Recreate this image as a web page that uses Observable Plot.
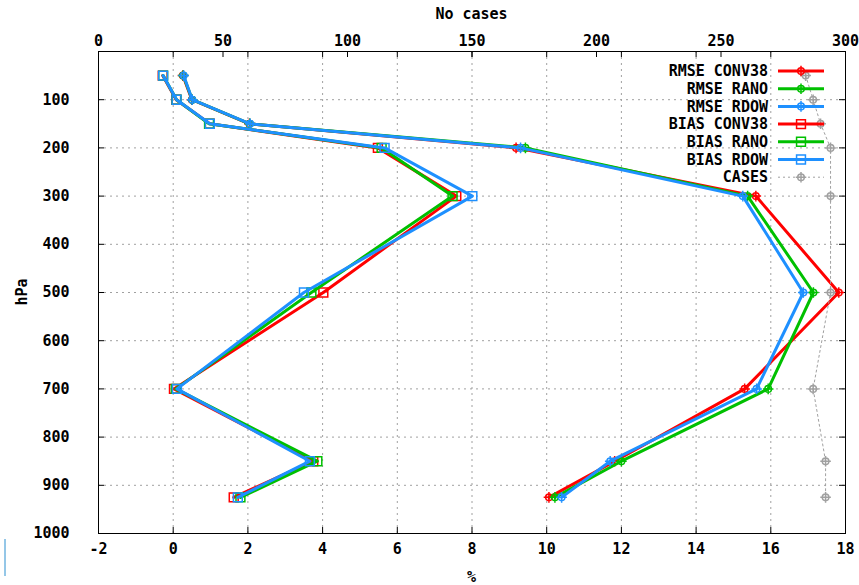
<!DOCTYPE html>
<html>
<head>
<meta charset="utf-8">
<script src="https://cdn.jsdelivr.net/npm/d3@7"></script>
<script src="https://cdn.jsdelivr.net/npm/@observablehq/plot@0.6"></script>
<style>
  html, body { margin: 0; padding: 0; background: #ffffff; }
  #chart { position: relative; width: 859px; height: 585px; }
</style>
</head>
<body>
<div id="chart"></div>
<script>
// Pressure levels (hPa)
const levels = [50, 100, 150, 200, 300, 500, 700, 850, 925];

// RMSE (%) per experiment
const rmseConv38 = [0.26, 0.50, 2.04, 9.18, 15.60, 17.82, 15.30, 11.82, 10.06];
const rmseRano   = [0.27, 0.51, 2.05, 9.43, 15.38, 17.14, 15.93, 12.00, 10.22];
const rmseRdow   = [0.28, 0.51, 2.06, 9.30, 15.25, 16.87, 15.62, 11.70, 10.40];

// BIAS (%) per experiment
const biasConv38 = [-0.28, 0.08, 0.98, 5.48, 7.58, 4.02, 0.02, 3.75, 1.62];
const biasRano   = [-0.27, 0.09, 0.96, 5.58, 7.48, 3.70, 0.07, 3.86, 1.80];
const biasRdow   = [-0.27, 0.09, 0.98, 5.66, 8.01, 3.50, 0.10, 3.66, 1.73];

// Number of cases per level (top axis)
const cases = [284, 287, 290, 294, 294, 294, 287, 292, 292];

// Axis ticks
const xTicks = [-2, 0, 2, 4, 6, 8, 10, 12, 14, 16, 18];
const caseTicks = [0, 50, 100, 150, 200, 250, 300];
const yTicks = [100, 200, 300, 400, 500, 600, 700, 800, 900, 1000];

const seriesNames = ["RMSE CONV38", "RMSE RANO", "RMSE RDOW", "BIAS CONV38", "BIAS RANO", "BIAS RDOW", "CASES"];

const RED = "#ff0000", GREEN = "#00c000", BLUE = "#1e90ff", GREY = "#a0a0a0";

// The cases axis (0..300) shares the frame with the % axis (-2..18)
const xDomain = [-2, 18];
const caseDomain = [0, 300];
const caseToX = c => xDomain[0] + (c - caseDomain[0]) * (xDomain[1] - xDomain[0]) / (caseDomain[1] - caseDomain[0]);
const xToCase = x => caseDomain[0] + (x - xDomain[0]) * (caseDomain[1] - caseDomain[0]) / (xDomain[1] - xDomain[0]);

const rows = vals => levels.map((p, i) => ({p, v: vals[i]}));

// Circle with a cross through it
const circlePlus = {
  draw(ctx, size) {
    const r = Math.sqrt(size / Math.PI);
    ctx.moveTo(r, 0);
    ctx.arc(0, 0, r, 0, 2 * Math.PI);
    ctx.moveTo(-r * 1.6, 0); ctx.lineTo(r * 1.6, 0);
    ctx.moveTo(0, -r * 1.6); ctx.lineTo(0, r * 1.6);
  }
};

const W = 859, H = 585;
const M = {left: 98, right: 14, top: 51, bottom: 52};
const frameW = W - M.left - M.right;
const frameH = H - M.top - M.bottom;
const TICK = 6;

const series = [
  {name: seriesNames[0], vals: rmseConv38, color: RED,   symbol: circlePlus, r: 3.3},
  {name: seriesNames[1], vals: rmseRano,   color: GREEN, symbol: circlePlus, r: 3.3},
  {name: seriesNames[2], vals: rmseRdow,   color: BLUE,  symbol: circlePlus, r: 3.3},
  {name: seriesNames[3], vals: biasConv38, color: RED,   symbol: "square",   r: 5},
  {name: seriesNames[4], vals: biasRano,   color: GREEN, symbol: "square",   r: 5},
  {name: seriesNames[5], vals: biasRdow,   color: BLUE,  symbol: "square",   r: 5}
];

const seriesMarks = series.flatMap(s => [
  Plot.line(rows(s.vals), {x: "v", y: "p", stroke: s.color, strokeWidth: 3}),
  Plot.dot(rows(s.vals), {x: "v", y: "p", symbol: s.symbol, r: s.r, stroke: s.color, fill: "none", strokeWidth: 1.5})
]);

const caseRows = levels.map((p, i) => ({p, c: cases[i]}));

const chart = Plot.plot({
  width: W,
  height: H,
  marginLeft: M.left,
  marginRight: M.right,
  marginTop: M.top,
  marginBottom: M.bottom,
  style: {
    fontFamily: "'DejaVu Sans Mono', 'Liberation Mono', monospace",
    fontWeight: "bold",
    fontSize: "15px",
    background: "#ffffff",
    color: "#000000",
    overflow: "visible"
  },
  x: {domain: xDomain},
  y: {domain: [0, 1000], reverse: true},
  marks: [
    // dotted grid
    Plot.ruleX(xTicks.slice(1, -1), {stroke: GREY, strokeOpacity: 1, strokeWidth: 1, strokeDasharray: "2,4"}),
    Plot.ruleY(yTicks.slice(0, -1), {stroke: GREY, strokeOpacity: 1, strokeWidth: 1, strokeDasharray: "2,4"}),

    // inward tick marks
    Plot.tickX(xTicks, {x: d => d, insetTop: frameH - TICK, stroke: "#000"}),
    Plot.tickX(xTicks, {x: d => d, insetBottom: frameH - TICK, stroke: "#000"}),
    Plot.tickX(caseTicks, {x: c => caseToX(c), insetBottom: frameH - TICK, stroke: "#000"}),
    Plot.tickY(yTicks, {y: d => d, insetRight: frameW - TICK, stroke: "#000"}),
    Plot.tickY(yTicks, {y: d => d, insetLeft: frameW - TICK, stroke: "#000"}),

    // tick labels
    Plot.axisX({anchor: "bottom", ticks: xTicks, tickFormat: d => String(d), tickSize: 0, tickPadding: 10, label: null}),
    Plot.axisX({anchor: "top", ticks: caseTicks.map(caseToX), tickFormat: d => String(Math.round(xToCase(d))), tickSize: 0, tickPadding: 6, label: null}),
    Plot.axisY({anchor: "left", ticks: yTicks, tickFormat: d => String(d), tickSize: 0, tickPadding: 29, label: null}),

    ...seriesMarks,

    // number of cases
    Plot.line(caseRows, {x: d => caseToX(d.c), y: "p", stroke: GREY, strokeWidth: 1, strokeDasharray: "2,3"}),
    Plot.dot(caseRows, {x: d => caseToX(d.c), y: "p", symbol: circlePlus, r: 3.3, stroke: GREY, fill: "none", strokeWidth: 1.5}),

    Plot.frame({stroke: "#000", strokeWidth: 1})
  ]
});

document.getElementById("chart").appendChild(chart);

// Axis titles and key
const svg = d3.select(chart);
const cx = M.left + frameW / 2;
svg.append("text").attr("x", cx).attr("y", 14).attr("dy", "0.35em").attr("text-anchor", "middle").text("No cases");
svg.append("text").attr("x", cx).attr("y", 577).attr("dy", "0.35em").attr("text-anchor", "middle").text("%");
svg.append("text").attr("transform", `translate(22,${M.top + frameH / 2}) rotate(-90)`).attr("dy", "0.35em").attr("text-anchor", "middle").text("hPa");

// margin rule at lower left
svg.append("line").attr("x1", 5).attr("x2", 5).attr("y1", 539).attr("y2", 576).attr("stroke", "#2a8fd0").attr("stroke-width", 1);

const key = svg.append("g");
const keyItems = [
  ...series.map(s => ({name: s.name, color: s.color, symbol: s.symbol, r: s.r, width: 3, dash: null})),
  {name: seriesNames[6], color: GREY, symbol: circlePlus, r: 3.3, width: 1, dash: "2,3"}
];
keyItems.forEach((k, i) => {
  const yy = 71 + i * 17.7;
  key.append("text").attr("x", 768).attr("y", yy).attr("dy", "0.35em").attr("text-anchor", "end").text(k.name);
  key.append("line").attr("x1", 778).attr("x2", 824).attr("y1", yy).attr("y2", yy)
    .attr("stroke", k.color).attr("stroke-width", k.width).attr("stroke-dasharray", k.dash);
  const type = k.symbol === "square" ? d3.symbolSquare : k.symbol;
  key.append("path").attr("d", d3.symbol(type, Math.PI * k.r * k.r)())
    .attr("transform", `translate(801,${yy})`)
    .attr("fill", "none").attr("stroke", k.color).attr("stroke-width", 1.5);
});
</script>
</body>
</html>
